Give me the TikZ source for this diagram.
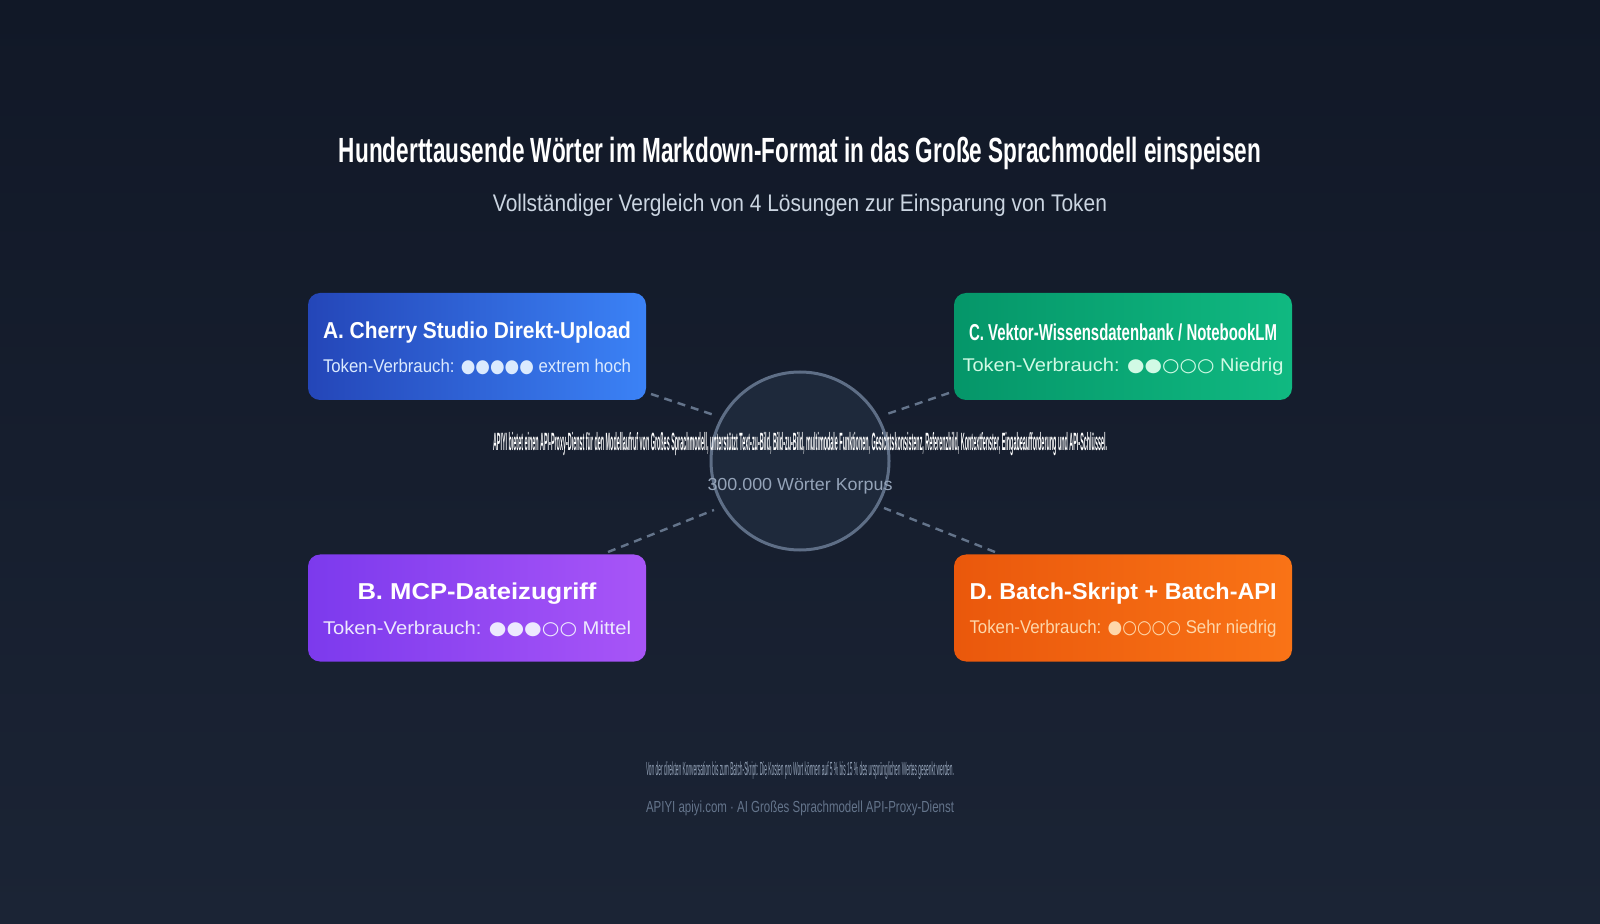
\documentclass[tikz,border=0pt]{standalone}
\usepackage{fontspec}
\setmainfont{Liberation Sans}
\newfontfamily\symf{DejaVu Sans}
\usepackage{graphicx}
\definecolor{bgtop}{HTML}{111827}
\definecolor{bgbot}{HTML}{1B2435}
\definecolor{subc}{HTML}{CBD5E1}
\definecolor{ring}{HTML}{5E6E86}
\definecolor{hubf}{HTML}{1E293B}
\definecolor{mut}{HTML}{94A3B8}
\definecolor{mut2}{HTML}{64748B}
\definecolor{aL}{HTML}{2446B8}
\definecolor{aR}{HTML}{3B82F6}
\definecolor{bL}{HTML}{7C3AED}
\definecolor{bR}{HTML}{A855F7}
\definecolor{cL}{HTML}{059669}
\definecolor{cR}{HTML}{10B981}
\definecolor{dL}{HTML}{EA580C}
\definecolor{dR}{HTML}{F97316}
\definecolor{aT}{HTML}{DBEAFE}
\definecolor{bT}{HTML}{EDE9FE}
\definecolor{cT}{HTML}{D1FAE5}
\definecolor{dT}{HTML}{FED7AA}
\newcommand\fitw[2]{\resizebox{#1}{\height}{#2}}
\tikzset{
  card/.style={rounded corners=6pt, minimum width=169pt, minimum height=53.5pt, inner sep=0pt},
  cardtitle/.style={text=white, inner sep=0pt, font=\bfseries\fontsize{11.5}{13}\selectfont},
  cardline/.style={inner sep=0pt, font=\fontsize{9.2}{11}\selectfont},
  link/.style={draw=mut2, line width=1.2pt, dash pattern=on 4pt off 3pt},
}
\begin{document}
\begin{tikzpicture}[x=0.5pt,y=-0.5pt]
\shade[top color=bgtop,bottom color=bgbot] (0,0) rectangle (1600,924);
\useasboundingbox (0,0) rectangle (1600,924);

% title
\node[text=white, inner sep=0pt, font=\bfseries\fontsize{17.5}{20}\selectfont] (title) at (800,153)
  {\fitw{461pt}{Hunderttausende Wörter im Markdown-Format in das Große Sprachmodell einspeisen}};
\node[text=subc, inner sep=0pt, font=\fontsize{12}{14}\selectfont] (sub) at (800,205)
  {\fitw{307pt}{Vollständiger Vergleich von 4 Lösungen zur Einsparung von Token}};

% connectors
\coordinate (a1) at (651,394); \coordinate (a2) at (714,415);
\coordinate (c1) at (949,393); \coordinate (c2) at (884,415);
\coordinate (b1) at (608,552); \coordinate (b2) at (714,510);
\coordinate (d1) at (995,552); \coordinate (d2) at (884,508);
\draw[link] (a1) -- (a2);
\draw[link] (c1) -- (c2);
\draw[link] (b1) -- (b2);
\draw[link] (d1) -- (d2);

% hub
\node[circle, minimum size=89pt, inner sep=0pt, draw=ring, line width=1.5pt, fill=hubf] (hub) at (800,461) {};
\node[text=white, inner sep=0pt, font=\bfseries\fontsize{12.5}{14}\selectfont] (hubtxt) at (800,444)
  {\fitw{307pt}{APIYI bietet einen API-Proxy-Dienst für den Modellaufruf von Großes Sprachmodell, unterstützt Text-zu-Bild, Bild-zu-Bild, multimodale Funktionen, Gesichtskonsistenz, Referenzbild, Kontextfenster, Eingabeaufforderung und API-Schlüssel.}};
\node[text=mut, inner sep=0pt, font=\fontsize{8.7}{10}\selectfont] (corpus) at (800,486)
  {\fitw{92.5pt}{300.000 Wörter Korpus}};

% cards
\node[card, left color=aL, right color=aR] (A) at (477,346.5) {};
\node[cardtitle] (At) at (477,333) {\fitw{154pt}{A. Cherry Studio Direkt-Upload}};
\node[cardline, text=aT] (Al) at (477,367) {\fitw{154pt}{Token-Verbrauch: {\symf ●●●●●} extrem hoch}};

\node[card, left color=cL, right color=cR] (C) at (1123,346.5) {};
\node[cardtitle] (Ct) at (1123,332) {\fitw{154pt}{C. Vektor-Wissensdatenbank / NotebookLM}};
\node[cardline, text=cT] (Cl) at (1123,367) {\fitw{160.5pt}{Token-Verbrauch: {\symf ●●○○○} Niedrig}};

\node[card, left color=bL, right color=bR] (B) at (477,608) {};
\node[cardtitle] (Bt) at (477,594) {\fitw{119.5pt}{B. MCP-Dateizugriff}};
\node[cardline, text=bT] (Bl) at (477,628.5) {\fitw{154pt}{Token-Verbrauch: {\symf ●●●○○} Mittel}};

\node[card, left color=dL, right color=dR] (D) at (1123,608) {};
\node[cardtitle] (Dt) at (1123,594) {\fitw{153.5pt}{D. Batch-Skript + Batch-API}};
\node[cardline, text=dT] (Dl) at (1123,628.5) {\fitw{153.5pt}{Token-Verbrauch: {\symf ●○○○○} Sehr niedrig}};

% footer
\node[text=mut, inner sep=0pt, font=\fontsize{9.5}{11}\selectfont] (foot1) at (800,771)
  {\fitw{154pt}{Von der direkten Konversation bis zum Batch-Skript: Die Kosten pro Wort können auf 5 \% bis 15 \% des ursprünglichen Wertes gesenkt werden.}};
\node[text=mut2, inner sep=0pt, font=\fontsize{8}{10}\selectfont] (foot2) at (800,808)
  {\fitw{154pt}{APIYI apiyi.com · AI Großes Sprachmodell API-Proxy-Dienst}};
\end{tikzpicture}
\end{document}
